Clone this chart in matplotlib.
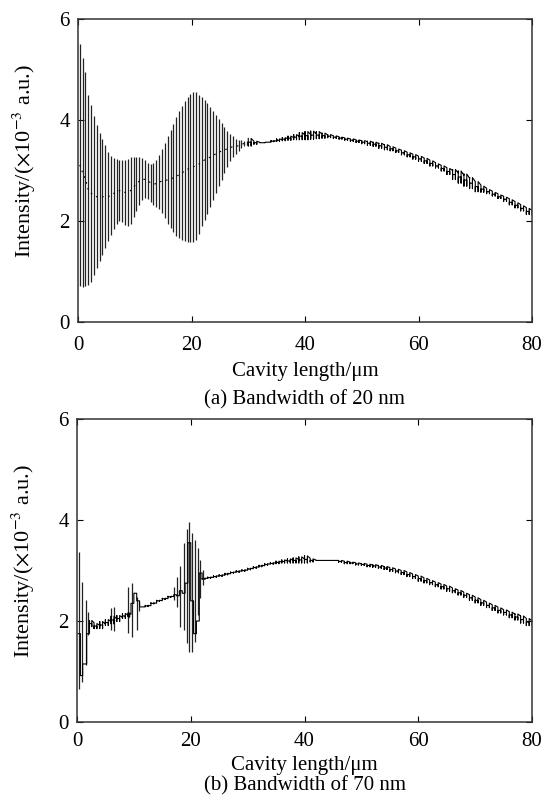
import matplotlib
matplotlib.use('Agg')
import matplotlib.pyplot as plt
import numpy as np

plt.rcParams['font.family'] = ['Liberation Serif', 'DejaVu Serif']
plt.rcParams['mathtext.fontset'] = 'stix'

# (a) 20 nm: dense oscillation region, one vertical stroke every 0.5 um
a_burst_x = np.arange(0.3, 30.0, 0.5)
a_burst_hi = [5.5, 5.22, 4.95, 4.5, 4.3, 4.08, 3.9, 3.75, 3.63, 3.5,
              3.37, 3.28, 3.24, 3.22, 3.21, 3.21, 3.21, 3.23, 3.26, 3.27,
              3.27, 3.26, 3.24, 3.2, 3.15, 3.13, 3.14, 3.2, 3.3, 3.42,
              3.55, 3.68, 3.8, 3.93, 4.05, 4.17, 4.28, 4.38, 4.46, 4.52,
              4.56, 4.55, 4.5, 4.45, 4.4, 4.33, 4.25, 4.18, 4.1, 4.02,
              3.95, 3.86, 3.79, 3.72, 3.68, 3.63, 3.6, 3.6, 3.59, 3.58]
a_burst_lo = [0.72, 0.7, 0.72, 0.74, 0.8, 0.93, 1.06, 1.2, 1.33, 1.47,
              1.6, 1.72, 1.85, 1.95, 2.0, 1.98, 1.92, 1.9, 1.95, 2.08,
              2.2, 2.32, 2.41, 2.45, 2.44, 2.38, 2.32, 2.28, 2.24, 2.16,
              2.05, 1.95, 1.86, 1.78, 1.71, 1.66, 1.62, 1.6, 1.59, 1.58,
              1.59, 1.63, 1.75, 1.9, 2.02, 2.14, 2.28, 2.42, 2.56, 2.7,
              2.82, 2.95, 3.07, 3.18, 3.27, 3.33, 3.38, 3.44, 3.48, 3.5]

# (a) smooth part, 30-80 um, with ripple height
a_curve_x = np.arange(30, 81, 1.0)
a_curve_y = [3.56, 3.55, 3.55, 3.56, 3.58, 3.6, 3.62, 3.64, 3.66, 3.68,
             3.69, 3.7, 3.7, 3.69, 3.68, 3.66, 3.64, 3.62, 3.6, 3.58,
             3.56, 3.54, 3.52, 3.49, 3.46, 3.43, 3.39, 3.35, 3.31, 3.27,
             3.23, 3.19, 3.14, 3.09, 3.04, 2.98, 2.92, 2.87, 2.81, 2.75,
             2.68, 2.63, 2.58, 2.53, 2.48, 2.43, 2.37, 2.31, 2.25, 2.19, 2.12]
a_curve_rip = [0.15, 0.06, 0.0, 0.0, 0.02, 0.05, 0.06, 0.08, 0.1, 0.14,
               0.16, 0.16, 0.14, 0.1, 0.06, 0.05, 0.04, 0.04, 0.05, 0.05,
               0.06, 0.08, 0.08, 0.1, 0.1, 0.08, 0.07, 0.08, 0.08, 0.09,
               0.1, 0.1, 0.1, 0.08, 0.1, 0.12, 0.2, 0.24, 0.24, 0.22,
               0.2, 0.12, 0.08, 0.07, 0.07, 0.08, 0.1, 0.1, 0.1, 0.12, 0.1]

# (b) 70 nm: isolated bursts
b_burst_x = [0.36, 0.9, 1.67, 2.0, 5.9, 6.5, 9.0, 9.7, 10.5, 10.9,
             17.05, 17.5, 18.1, 18.8, 19.3, 19.7, 20.2, 20.8, 21.2, 21.7, 22.1]
b_burst_lo = [0.66, 0.79, 1.12, 1.72, 1.82, 1.8, 1.76, 1.69, 1.82, 2.2,
              2.42, 2.28, 1.89, 1.82, 1.56, 1.39, 1.39, 1.59, 2.12, 2.46, 2.71]
b_burst_hi = [3.36, 2.78, 2.41, 2.18, 2.25, 2.28, 2.68, 2.75, 2.48, 2.4,
              2.68, 2.88, 3.08, 3.54, 3.83, 3.97, 3.74, 3.6, 3.44, 3.21, 3.01]

b_curve_x = [0.2, 0.6, 1.0, 1.7, 2.2, 3, 4, 5, 6, 7, 8, 9, 9.5, 10, 10.5,
             11, 12, 13, 14, 15, 16, 17, 17.5, 18, 18.5, 19, 19.5, 20, 20.5,
             21, 21.5] + list(np.arange(22, 81, 1.0))
b_curve_y = [1.75, 0.92, 1.15, 1.75, 1.95, 1.9, 1.92, 1.97, 2.02, 2.05,
             2.1, 2.12, 2.35, 2.55, 2.4, 2.28, 2.3, 2.35, 2.4, 2.44, 2.48,
             2.52, 2.5, 2.6, 2.55, 2.75, 3.55, 2.4, 1.75, 2.0, 2.95,
             2.84, 2.86, 2.88, 2.9, 2.93, 2.96, 2.98, 3.0, 3.03, 3.06,
             3.09, 3.12, 3.14, 3.16, 3.18, 3.19, 3.2, 3.21, 3.22, 3.2,
             3.2, 3.2, 3.2, 3.2, 3.18, 3.16, 3.15, 3.13, 3.12, 3.1,
             3.09, 3.07, 3.05, 3.02, 2.99, 2.96, 2.92, 2.88, 2.84, 2.8,
             2.76, 2.72, 2.68, 2.64, 2.6, 2.56, 2.51, 2.46, 2.41, 2.36,
             2.31, 2.26, 2.21, 2.17, 2.12, 2.08, 2.03, 1.98, 1.92]
b_curve_rip = [0, 0, 0, 0, 0.12, 0.1, 0.14, 0.12, 0.15, 0.12,
               0.1, 0.08, 0, 0, 0, 0, 0.02, 0.02, 0.02, 0.02, 0.02,
               0, 0, 0, 0, 0, 0, 0, 0, 0, 0,
               0.02, 0.02, 0.03, 0.03, 0.03, 0.02, 0.03, 0.03, 0.03, 0.03,
               0.03, 0.03, 0.03, 0.05, 0.06, 0.08, 0.1, 0.12, 0.14, 0.06,
               0, 0, 0, 0, 0.04, 0.05, 0.03, 0.04, 0.04, 0.05,
               0.05, 0.06, 0.06, 0.07, 0.07, 0.08, 0.08, 0.08, 0.1, 0.09,
               0.08, 0.08, 0.09, 0.1, 0.08, 0.09, 0.08, 0.1, 0.1, 0.1,
               0.09, 0.1, 0.1, 0.1, 0.11, 0.12, 0.14, 0.14, 0.12]


def ripple_path(cx, cy, rip):
    # stepped line with a small up/down stroke at each sample and halfway
    xs, ys = [], []
    for i in range(len(cx) - 1):
        r = rip[i] / 2
        xm = (cx[i] + cx[i + 1]) / 2
        xs += [cx[i], cx[i], cx[i], xm, xm, xm]
        ys += [cy[i] + r, cy[i] - r, cy[i], cy[i], cy[i] - r, cy[i] + r]
        xs += [cx[i + 1]]
        ys += [cy[i] + r * 0.3]
    xs.append(cx[-1])
    ys.append(cy[-1])
    return xs, ys


def style_axes(ax, xpad):
    ax.set_xlim(0, 80)
    ax.set_ylim(0, 6)
    ax.set_xticks([0, 20, 40, 60, 80])
    ax.set_yticks([0, 2, 4, 6])
    ax.tick_params(direction='in', top=True, right=True, length=4, width=0.8,
                   labelsize=15, pad=6)
    ax.tick_params(axis='x', pad=xpad)
    for s in ax.spines.values():
        s.set_linewidth(1.1)
        s.set_color('#333333')
    ax.set_ylabel(r'Intensity/($\times$10$^{-3}$ a.u.)', fontsize=16)
    ax.yaxis.set_label_coords(-0.117, 0.53)
    ax.yaxis.label.set_va('center')
    ax.set_xlabel('Cavity length/μm', fontsize=15)
    ax.xaxis.label.set_va('center')


fig = plt.figure(figsize=(5.44, 7.98), dpi=100)

ax1 = fig.add_axes([0.1434, 0.5965, 0.8346, 0.3797])
ax1.vlines(a_burst_x, a_burst_lo, a_burst_hi, color='#222222', lw=0.9)
a_mid = (np.array(a_burst_lo) + np.array(a_burst_hi)) / 2
ax1.plot(a_burst_x, a_mid, color='black', lw=0.8, ls=(0, (1.5, 4)))
xs, ys = ripple_path(a_curve_x, a_curve_y, a_curve_rip)
ax1.plot(xs, ys, color='black', lw=0.8)
style_axes(ax1, 10)
ax1.xaxis.set_label_coords(0.5, -0.165)
fig.text(0.5605, 1 - 400 / 798, '(a) Bandwidth of 20 nm', ha='center', va='center', fontsize=15)

ax2 = fig.add_axes([0.1415, 0.0952, 0.8365, 0.3797])
ax2.vlines(b_burst_x, b_burst_lo, b_burst_hi, color='#222222', lw=0.9)
xs, ys = ripple_path(b_curve_x, b_curve_y, b_curve_rip)
ax2.plot(xs, ys, color='black', lw=0.8)
style_axes(ax2, 7)
ax2.xaxis.set_label_coords(0.5, -0.145)
fig.text(0.5605, 1 - 786 / 798, '(b) Bandwidth of 70 nm', ha='center', va='center', fontsize=15)

fig.savefig('out.png', dpi=100)
